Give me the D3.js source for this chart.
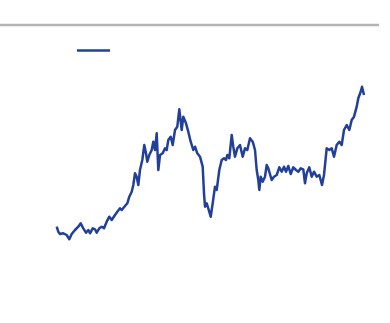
<!DOCTYPE html>
<html>
<head>
<meta charset="utf-8">
<script src="https://cdn.jsdelivr.net/npm/d3@7"></script>
<style>
  body { margin: 0; background: #fff; }
</style>
</head>
<body>
<div id="root"></div>
<script>
// position along the series
const steps = [0, 1.6, 3.3, 6.6, 10, 12.6, 15, 18.3, 21.6, 24, 26.6, 29.3, 31.6, 33.3, 36, 38.3, 40, 42.6, 45, 47.3,
  50, 52.6, 55, 58.3, 60.6, 63.3, 65, 68.3, 70.6, 72.6, 75, 76.6, 78.3, 80, 81.6, 83.3, 85.6, 87.6, 89.3, 90.6,
  92.6, 95, 96.6, 98.3, 100, 101.6, 103.3, 106, 108.3, 110, 111.6, 114, 116, 118.3, 120.6, 122.6, 125, 126.6, 129.3, 131.6,
  134, 136.6, 138.3, 140.6, 143.3, 146, 147.3, 148.3, 150, 151.6, 154, 156, 158.3, 160, 162.6, 165, 167.3, 169.3, 170.6, 172.6,
  175, 176.6, 178.3, 180.6, 183.3, 186, 188.3, 190.6, 193.3, 196, 198.3, 200, 201.6, 202.6, 204, 206, 208.3, 210, 211.6, 215,
  217.3, 220, 222.6, 225, 227.3, 229.3, 231.6, 234, 236.6, 239.3, 241.6, 244, 246.6, 248.3, 250, 252.6, 255, 257.3,
  260, 262.6, 265.3, 267.3, 270, 272.6, 275, 277.3, 280, 282.6, 285, 287.3, 290, 292.6, 295, 297.3, 300, 301.6, 304, 305.3, 307.3];

// series values
const values = [23.3, 18.3, 16, 16.7, 15, 10.7, 16, 20, 23.3, 26.7, 21.7, 17.3, 20, 16.7, 21.7, 20.7, 17.3, 21.7, 23.3, 21.7,
  28.3, 33.3, 30, 35, 38.3, 41.7, 40, 44, 46.7, 53.3, 58.3, 65, 76.7, 73.3, 65, 80, 90, 105, 96.7, 88.3,
  95, 100, 108.3, 100, 116.7, 80, 95, 96.7, 101.7, 100, 110, 113.3, 105, 120, 123.3, 140.7, 120, 133.3, 126.7, 118.3,
  108.3, 100, 103.3, 96.7, 93.3, 83.3, 56.7, 43.3, 46.7, 41.7, 33.3, 46.7, 63.3, 60, 80, 90, 91.7, 90, 95, 91.7,
  115, 103.3, 93.3, 101.7, 105, 93.3, 101.7, 100, 111.7, 108.3, 100, 80, 70, 60, 73.3, 68.3, 73.3, 85, 81.7, 70,
  73.3, 75, 82.7, 78.3, 83.3, 78.3, 84, 76, 82.7, 80, 78.3, 81.7, 80.7, 66.7, 76.7, 82.7, 73.3, 78.3,
  73.3, 75, 65, 75, 101.7, 100, 101.7, 93.3, 105, 108.3, 105, 120, 125, 120, 130, 133.3, 143.3, 151.7, 158.3, 163.3, 155];

const w = 390;
const h = 323;

const data = steps.map((s, i) => ({ s: s, v: values[i] }));

const xScale = d3.scaleLinear()
  .domain([0, 307.3])
  .range([56.7, 364]);

const yScale = d3.scaleLinear()
  .domain([0, 100])
  .range([250, 150]);

const svg = d3.select("#root")
  .append("svg")
  .attr("width", w)
  .attr("height", h);

// grey rule across the top
svg.append("line")
  .attr("x1", 0)
  .attr("x2", 379)
  .attr("y1", 25)
  .attr("y2", 25)
  .attr("stroke", "#b3b3b3")
  .attr("stroke-width", 2.4);

// legend swatch (no label)
svg.append("line")
  .attr("x1", 77)
  .attr("x2", 110)
  .attr("y1", 50.5)
  .attr("y2", 50.5)
  .attr("stroke", "#22409a")
  .attr("stroke-width", 2.4);

const line = d3.line()
  .x(d => xScale(d.s))
  .y(d => yScale(d.v));

svg.append("path")
  .datum(data)
  .attr("fill", "none")
  .attr("stroke", "#22409a")
  .attr("stroke-width", 2.5)
  .attr("stroke-linejoin", "round")
  .attr("d", line);
</script>
</body>
</html>
